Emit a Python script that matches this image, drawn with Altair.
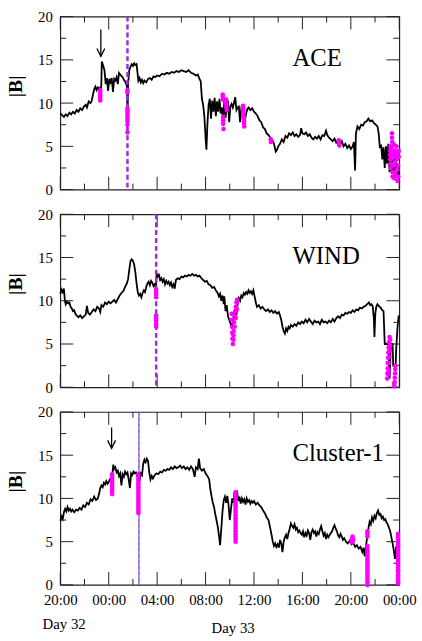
import altair as alt
import pandas as pd

# |B| in nT against hours elapsed since 20:00 UT on day 32
ACE_B = [
    (0.0, 8.8), (0.15, 8.6), (0.3, 8.4), (0.45, 8.7), (0.6, 8.5), (0.75, 8.9), (0.9, 8.7),
    (1.05, 9.0), (1.2, 8.8), (1.35, 9.2), (1.5, 9.0), (1.65, 9.4), (1.8, 9.2), (1.95, 9.6),
    (2.1, 9.8), (2.2, 9.5), (2.35, 10.2), (2.5, 10.0), (2.6, 10.3), (2.7, 11.0), (2.8, 11.6),
    (2.9, 11.9), (3.0, 11.5), (3.1, 11.8), (3.2, 11.6), (3.3, 11.8), (3.38, 11.6), (3.43, 14.8),
    (3.55, 14.3), (3.65, 13.8), (3.75, 12.2), (3.85, 12.9), (3.95, 11.4), (4.05, 12.8),
    (4.15, 12.4), (4.25, 12.9), (4.35, 11.3), (4.45, 12.8), (4.55, 12.6), (4.65, 13.0),
    (4.75, 12.2), (4.85, 13.5), (5.0, 13.2), (5.15, 13.0), (5.25, 12.7), (5.35, 12.5),
    (5.45, 12.2), (5.52, 11.8), (5.55, 6.8), (5.6, 12.2), (5.7, 13.8), (5.8, 14.2),
    (5.9, 14.5), (6.0, 14.3), (6.1, 14.6), (6.2, 14.4), (6.3, 14.5), (6.38, 13.5),
    (6.45, 12.6), (6.55, 12.9), (6.65, 12.4), (6.75, 12.7), (6.85, 12.3), (6.95, 12.6),
    (7.1, 12.4), (7.25, 12.8), (7.4, 12.9), (7.55, 12.7), (7.7, 13.1), (7.85, 13.0),
    (8.0, 13.2), (8.2, 13.1), (8.4, 13.4), (8.6, 13.3), (8.8, 13.5), (9.0, 13.4),
    (9.2, 13.6), (9.4, 13.5), (9.6, 13.7), (9.8, 13.6), (10.0, 13.8), (10.2, 13.7),
    (10.4, 13.6), (10.6, 13.8), (10.8, 13.5), (11.0, 13.4), (11.2, 13.2), (11.35, 13.3),
    (11.5, 12.8), (11.6, 12.5), (11.7, 10.5), (11.8, 9.8), (11.9, 8.5), (12.0, 6.0),
    (12.07, 4.6), (12.15, 7.5), (12.25, 9.8), (12.35, 10.5), (12.45, 8.2), (12.55, 10.3),
    (12.65, 9.0), (12.75, 10.6), (12.85, 8.5), (12.95, 10.2), (13.05, 9.0), (13.15, 10.5),
    (13.25, 8.8), (13.35, 9.5), (13.45, 8.0), (13.55, 10.2), (13.65, 8.3), (13.75, 9.8),
    (13.85, 10.3), (13.95, 7.8), (14.05, 9.6), (14.15, 9.9), (14.25, 9.5), (14.35, 10.0),
    (14.45, 10.7), (14.55, 9.2), (14.65, 9.5), (14.75, 9.6), (14.85, 7.8), (14.95, 9.3),
    (15.05, 9.0), (15.15, 8.5), (15.25, 8.0), (15.35, 8.8), (15.45, 9.3), (15.55, 9.5),
    (15.7, 9.2), (15.85, 9.4), (16.0, 9.0), (16.15, 8.8), (16.3, 8.5), (16.45, 8.0),
    (16.6, 7.8), (16.75, 7.2), (16.9, 7.0), (17.05, 6.5), (17.2, 6.3), (17.35, 6.0),
    (17.5, 5.8), (17.65, 5.3), (17.8, 4.4), (17.9, 4.6), (18.0, 5.0), (18.15, 5.3),
    (18.3, 5.8), (18.45, 5.5), (18.6, 6.2), (18.75, 6.0), (18.9, 6.5), (19.05, 6.3),
    (19.2, 6.6), (19.35, 6.2), (19.5, 6.4), (19.65, 6.1), (19.8, 6.3), (19.9, 7.1),
    (20.0, 6.5), (20.15, 6.4), (20.3, 6.6), (20.45, 6.2), (20.6, 6.4), (20.75, 6.0),
    (20.9, 5.8), (21.05, 6.1), (21.2, 5.9), (21.35, 6.2), (21.5, 5.8), (21.65, 6.3),
    (21.8, 6.2), (21.95, 6.8), (22.05, 6.3), (22.2, 6.0), (22.35, 5.8), (22.5, 5.6),
    (22.65, 5.9), (22.8, 5.4), (22.95, 5.5), (23.1, 5.2), (23.25, 5.6), (23.4, 5.0),
    (23.55, 5.3), (23.7, 4.8), (23.85, 5.1), (24.0, 4.7), (24.15, 5.0), (24.25, 5.5),
    (24.35, 2.2), (24.42, 6.5), (24.55, 7.3), (24.7, 7.0), (24.85, 7.5), (25.0, 7.4),
    (25.15, 7.8), (25.3, 7.9), (25.45, 8.2), (25.6, 7.9), (25.75, 8.0), (25.9, 7.7),
    (26.05, 7.5), (26.2, 7.3), (26.3, 6.5), (26.4, 4.8), (26.5, 5.2), (26.6, 3.5),
    (26.7, 4.9), (26.8, 2.5), (26.9, 5.0), (27.0, 3.0), (27.1, 5.3), (27.2, 2.0),
    (27.3, 4.0), (27.4, 1.8), (27.5, 3.5), (27.6, 2.2), (27.7, 4.5), (27.8, 1.5),
    (27.9, 2.5), (28.0, 0.8),
]

WIND_B = [
    (0.0, 10.8), (0.1, 11.3), (0.2, 11.0), (0.3, 11.4), (0.38, 10.0), (0.45, 9.6),
    (0.55, 9.9), (0.65, 9.7), (0.75, 9.8), (0.85, 9.3), (0.95, 9.1), (1.05, 8.8),
    (1.15, 8.9), (1.25, 8.5), (1.35, 8.3), (1.5, 8.1), (1.65, 8.3), (1.8, 8.0),
    (1.95, 8.2), (2.1, 8.4), (2.2, 9.4), (2.3, 8.6), (2.45, 8.4), (2.6, 8.7), (2.75, 9.0),
    (2.9, 8.8), (3.05, 9.3), (3.2, 9.1), (3.3, 8.7), (3.4, 9.5), (3.55, 9.3), (3.7, 9.8),
    (3.85, 9.6), (4.0, 9.9), (4.15, 9.7), (4.3, 9.9), (4.45, 10.1), (4.6, 9.8),
    (4.75, 10.2), (4.9, 10.6), (5.05, 10.9), (5.2, 11.1), (5.35, 11.6), (5.5, 12.0),
    (5.6, 12.5), (5.7, 13.6), (5.8, 14.6), (5.9, 14.8), (6.0, 14.6), (6.1, 14.2),
    (6.2, 13.3), (6.3, 12.0), (6.4, 11.0), (6.5, 10.6), (6.6, 10.8), (6.7, 10.4),
    (6.8, 10.9), (6.9, 11.2), (7.0, 11.0), (7.1, 11.6), (7.2, 12.0), (7.3, 12.2),
    (7.4, 11.8), (7.5, 12.3), (7.6, 12.1), (7.7, 11.7), (7.8, 11.9), (7.88, 11.5),
    (7.92, 12.0), (7.96, 13.2), (8.05, 12.8), (8.15, 13.0), (8.25, 12.4), (8.35, 12.6),
    (8.45, 12.2), (8.55, 12.5), (8.65, 11.9), (8.75, 12.3), (8.85, 12.0), (8.95, 12.2),
    (9.05, 11.8), (9.15, 12.1), (9.25, 11.6), (9.35, 11.9), (9.45, 11.4), (9.55, 12.4),
    (9.7, 12.6), (9.85, 12.5), (10.0, 12.8), (10.15, 12.7), (10.3, 12.9), (10.45, 12.8),
    (10.6, 13.0), (10.75, 12.9), (10.9, 13.1), (11.05, 12.9), (11.2, 13.0), (11.35, 12.8),
    (11.5, 12.9), (11.65, 12.6), (11.8, 12.4), (11.95, 12.2), (12.1, 12.3), (12.25, 11.9),
    (12.4, 11.8), (12.55, 11.5), (12.7, 11.6), (12.85, 11.2), (13.0, 10.9), (13.1, 10.5),
    (13.2, 10.8), (13.3, 10.0), (13.4, 10.6), (13.5, 9.6), (13.55, 10.5), (13.65, 8.8),
    (13.75, 9.5), (13.85, 8.2), (13.95, 7.8), (14.05, 7.4), (14.15, 7.0), (14.25, 7.5),
    (14.35, 8.5), (14.45, 9.0), (14.55, 8.3), (14.65, 9.6), (14.75, 10.3), (14.85, 10.0),
    (14.95, 10.6), (15.05, 10.4), (15.15, 10.9), (15.25, 10.7), (15.35, 11.0),
    (15.45, 10.8), (15.55, 11.2), (15.65, 10.9), (15.75, 11.1), (15.85, 10.8),
    (15.95, 11.2), (16.05, 10.5), (16.15, 9.8), (16.25, 9.3), (16.4, 9.5), (16.55, 9.1),
    (16.7, 9.3), (16.85, 9.0), (17.0, 8.8), (17.15, 9.0), (17.3, 8.7), (17.45, 8.9),
    (17.6, 8.6), (17.75, 8.8), (17.9, 8.5), (18.05, 8.7), (18.15, 8.3), (18.25, 7.8),
    (18.35, 7.0), (18.45, 6.5), (18.55, 6.2), (18.65, 6.8), (18.75, 6.5), (18.85, 7.0),
    (18.95, 6.8), (19.05, 7.2), (19.2, 7.0), (19.35, 7.3), (19.5, 7.1), (19.65, 7.5),
    (19.8, 7.3), (19.95, 7.6), (20.1, 7.4), (20.25, 7.8), (20.4, 7.5), (20.55, 7.9),
    (20.7, 7.6), (20.85, 7.3), (21.0, 7.7), (21.15, 7.5), (21.3, 7.6), (21.45, 7.3),
    (21.6, 7.8), (21.75, 7.5), (21.9, 7.6), (22.05, 7.4), (22.2, 7.7), (22.35, 7.5),
    (22.5, 7.9), (22.65, 7.6), (22.8, 8.0), (22.95, 8.2), (23.1, 8.0), (23.25, 8.4),
    (23.4, 8.3), (23.55, 8.6), (23.7, 8.5), (23.85, 8.7), (24.0, 8.6), (24.15, 8.9),
    (24.3, 8.7), (24.45, 9.0), (24.6, 8.9), (24.75, 9.2), (24.9, 9.1), (25.05, 9.3),
    (25.2, 9.4), (25.35, 9.6), (25.5, 9.8), (25.6, 9.5), (25.7, 9.6), (25.8, 9.4),
    (25.9, 8.0), (25.95, 5.8), (26.02, 8.5), (26.1, 9.3), (26.2, 9.6), (26.3, 9.4),
    (26.45, 9.2), (26.6, 8.9), (26.7, 8.8), (26.8, 5.0), (27.1, 5.0), (27.2, 1.0),
    (27.3, 5.0), (27.45, 5.0), (27.5, 2.5), (27.7, 2.5), (27.75, 4.5), (27.85, 6.8),
    (27.95, 8.3), (28.0, 8.0),
]

CLUSTER_B = [
    (0.0, 7.4), (0.1, 7.9), (0.2, 7.6), (0.3, 8.4), (0.4, 8.8), (0.5, 8.5), (0.6, 9.0),
    (0.7, 8.6), (0.8, 8.8), (0.9, 8.5), (1.0, 8.7), (1.15, 8.4), (1.3, 8.7), (1.45, 8.6),
    (1.6, 8.9), (1.75, 8.7), (1.9, 9.2), (2.05, 9.0), (2.2, 9.5), (2.35, 9.3), (2.5, 9.9),
    (2.65, 9.7), (2.8, 10.2), (2.95, 9.8), (3.1, 10.0), (3.2, 10.5), (3.3, 11.2),
    (3.4, 11.5), (3.5, 11.3), (3.6, 11.8), (3.7, 11.6), (3.8, 12.0), (3.9, 11.7),
    (4.0, 11.9), (4.1, 12.2), (4.2, 12.0), (4.3, 12.8), (4.38, 13.9), (4.45, 13.4),
    (4.55, 13.6), (4.65, 13.0), (4.75, 13.2), (4.85, 12.6), (4.95, 12.9), (5.05, 11.5),
    (5.15, 12.8), (5.25, 12.5), (5.35, 13.1), (5.45, 12.8), (5.55, 13.0), (5.65, 12.2),
    (5.75, 11.2), (5.85, 12.9), (5.95, 12.7), (6.05, 13.1), (6.15, 12.9), (6.25, 13.0),
    (6.35, 12.6), (6.45, 12.8), (6.55, 12.0), (6.65, 12.9), (6.75, 12.7), (6.85, 14.0),
    (6.95, 14.5), (7.05, 14.2), (7.15, 14.6), (7.25, 14.3), (7.35, 13.0), (7.45, 12.2),
    (7.55, 12.6), (7.65, 12.3), (7.8, 12.7), (7.95, 12.9), (8.1, 12.8), (8.25, 13.1),
    (8.4, 13.0), (8.55, 13.3), (8.7, 13.2), (8.85, 13.4), (9.0, 13.3), (9.15, 13.6),
    (9.3, 13.4), (9.45, 13.7), (9.6, 13.5), (9.75, 13.6), (9.9, 13.8), (10.05, 13.5),
    (10.2, 13.7), (10.35, 13.4), (10.5, 13.6), (10.65, 13.3), (10.8, 13.7), (10.95, 13.4),
    (11.1, 12.5), (11.2, 13.6), (11.35, 13.4), (11.45, 14.6), (11.55, 13.5), (11.7, 13.2),
    (11.85, 13.4), (12.0, 12.9), (12.15, 12.6), (12.3, 12.2), (12.4, 11.0), (12.5, 10.2),
    (12.6, 9.5), (12.7, 9.0), (12.8, 8.2), (12.9, 7.5), (13.0, 6.8), (13.1, 5.8),
    (13.2, 4.6), (13.3, 6.5), (13.4, 8.5), (13.5, 9.8), (13.6, 10.2), (13.7, 9.5),
    (13.8, 10.3), (13.9, 9.2), (14.0, 7.5), (14.1, 8.8), (14.2, 10.0), (14.3, 9.5),
    (14.4, 10.8), (14.5, 10.3), (14.6, 10.9), (14.7, 9.7), (14.8, 10.2), (14.9, 9.4),
    (15.0, 10.0), (15.1, 9.6), (15.2, 9.9), (15.3, 9.3), (15.4, 10.0), (15.5, 9.6),
    (15.6, 9.8), (15.7, 9.4), (15.8, 9.7), (15.9, 9.5), (16.0, 9.7), (16.15, 9.3),
    (16.3, 9.5), (16.45, 9.2), (16.6, 9.0), (16.75, 8.6), (16.9, 8.3), (17.05, 7.8),
    (17.2, 7.5), (17.35, 6.5), (17.45, 5.8), (17.55, 5.0), (17.65, 4.5), (17.75, 4.8),
    (17.85, 4.4), (17.95, 4.7), (18.05, 4.3), (18.15, 5.2), (18.25, 4.8), (18.35, 3.8),
    (18.45, 5.0), (18.55, 5.5), (18.65, 5.8), (18.75, 5.3), (18.85, 6.0), (18.95, 6.5),
    (19.05, 7.1), (19.15, 6.8), (19.25, 6.6), (19.35, 7.0), (19.45, 6.4), (19.55, 6.6),
    (19.65, 6.1), (19.75, 6.3), (19.85, 6.0), (19.95, 5.8), (20.05, 6.2), (20.15, 5.5),
    (20.25, 6.0), (20.35, 5.7), (20.45, 6.3), (20.55, 6.0), (20.65, 5.2), (20.75, 6.1),
    (20.85, 6.4), (20.95, 6.0), (21.05, 6.2), (21.15, 5.6), (21.25, 6.1), (21.35, 5.9),
    (21.45, 6.4), (21.55, 6.8), (21.65, 6.2), (21.75, 5.7), (21.85, 6.0), (21.95, 5.3),
    (22.05, 5.8), (22.15, 5.5), (22.3, 5.9), (22.45, 6.2), (22.55, 6.6), (22.65, 6.9),
    (22.75, 6.5), (22.85, 6.2), (22.95, 5.7), (23.05, 5.5), (23.15, 5.9), (23.25, 5.6),
    (23.35, 5.2), (23.45, 5.4), (23.6, 5.0), (23.75, 4.8), (23.9, 5.1), (24.05, 4.7),
    (24.2, 4.9), (24.35, 4.4), (24.5, 4.6), (24.65, 4.2), (24.8, 4.4), (24.95, 3.8),
    (25.05, 4.3), (25.15, 3.3), (25.25, 4.5), (25.35, 5.5), (25.45, 6.5), (25.55, 7.3),
    (25.65, 7.0), (25.75, 7.8), (25.85, 7.4), (25.95, 8.0), (26.05, 7.7), (26.15, 8.3),
    (26.25, 8.6), (26.35, 8.1), (26.45, 8.2), (26.55, 7.7), (26.65, 7.9), (26.75, 7.5),
    (26.85, 7.6), (26.95, 7.2), (27.05, 7.0), (27.15, 6.6), (27.25, 6.2), (27.35, 5.5),
    (27.45, 4.8), (27.55, 4.0), (27.65, 3.0), (27.75, 4.5), (27.85, 2.6), (27.92, 5.0),
    (28.0, 5.5),
]

# highlighted samples (magenta)
ACE_DOTS = [
    (3.3, 10.3), (3.3, 10.6), (3.3, 10.9), (3.3, 11.2), (3.3, 11.5),
    (5.55, 11.5), (5.55, 11.2), (5.55, 9.4), (5.55, 9.1), (5.55, 8.8), (5.55, 8.5),
    (5.55, 8.2), (5.55, 7.9), (5.55, 7.5), (5.55, 6.6),
    (13.42, 11.0), (13.42, 10.7), (13.45, 10.4), (13.45, 8.4), (13.45, 8.0),
    (13.45, 7.6), (13.48, 7.0),
    (13.7, 10.4), (13.7, 10.1), (13.72, 9.8), (13.72, 9.5), (13.75, 9.2),
    (15.1, 9.7), (15.1, 9.4), (15.12, 9.1), (15.12, 8.8), (15.15, 8.5), (15.15, 8.2),
    (15.18, 7.9), (15.18, 7.6), (15.2, 7.3),
    (17.38, 5.8), (17.4, 5.5),
    (23.0, 5.7), (23.02, 5.4), (23.05, 5.1),
    (27.25, 4.5), (27.25, 4.0), (27.25, 3.5), (27.28, 5.0), (27.3, 2.5), (27.3, 3.0),
    (27.32, 4.8), (27.4, 6.5), (27.4, 6.0), (27.42, 5.5), (27.45, 1.5), (27.45, 2.0),
    (27.5, 4.2), (27.5, 3.8), (27.55, 2.8), (27.55, 5.2), (27.58, 1.3), (27.6, 4.5),
    (27.65, 3.2), (27.65, 2.0), (27.7, 4.0), (27.72, 1.6), (27.75, 5.0), (27.8, 3.5),
    (27.82, 2.3), (27.85, 1.0), (27.9, 4.3), (27.9, 2.8), (27.92, 1.5), (27.95, 3.8),
    (27.95, 4.5),
]

WIND_DOTS = [
    (7.92, 11.3), (7.92, 11.0), (7.92, 10.7), (7.92, 10.4),
    (7.92, 8.3), (7.92, 8.0), (7.92, 7.7), (7.92, 7.3), (7.92, 7.0),
    (14.15, 8.5), (14.15, 7.8), (14.18, 7.0), (14.2, 6.3), (14.22, 5.6), (14.25, 5.0),
    (14.3, 5.5), (14.32, 6.5), (14.35, 7.5), (14.4, 8.3), (14.45, 8.8), (14.5, 9.3),
    (14.55, 9.8), (14.6, 10.1), (14.58, 9.0), (14.5, 8.0), (14.4, 7.0), (14.3, 6.0),
    (27.0, 1.0), (27.02, 1.6), (27.05, 2.2), (27.05, 2.8), (27.08, 3.4), (27.1, 4.0),
    (27.12, 4.6), (27.15, 5.2), (27.2, 5.8), (27.25, 5.5), (27.25, 4.8), (27.2, 4.2),
    (27.18, 3.5), (27.15, 2.8), (27.12, 2.0), (27.1, 1.5),
    (27.58, 0.4), (27.6, 0.1), (27.62, 0.6), (27.63, 1.1), (27.65, 1.6), (27.67, 2.1),
    (27.7, 2.5),
]

CLUSTER_DOTS = (
    [(4.28, v) for v in (10.5, 10.8, 11.1, 11.4, 11.7, 12.0, 12.3, 12.6, 12.8)]
    + [(6.45, v) for v in (8.3, 8.6, 8.9, 9.2, 9.5, 9.8, 10.1, 10.4, 10.7, 11.0,
                           11.3, 11.6, 11.9, 12.2, 12.5, 12.8)]
    + [(14.48, v) for v in (5.0, 5.3, 5.6, 5.9, 6.2, 6.5, 6.8, 7.1, 7.4, 7.7, 8.0,
                            8.3, 8.6, 8.9, 9.2, 9.5, 9.8, 10.1, 10.4, 10.7)]
    + [(24.05, 5.0), (24.1, 5.3), (24.15, 5.6), (24.2, 5.2), (24.1, 4.9)]
    + [(25.37, v) for v in (0.0, 0.3, 0.6, 0.9, 1.2, 1.5, 1.8, 2.1, 2.4, 2.7, 3.0,
                            3.3, 3.6, 3.9, 4.2, 4.5, 5.6, 5.9, 6.2)]
    + [(27.9, v) for v in (0.2, 0.5, 0.8, 1.1, 1.4, 1.7, 2.0, 2.3, 2.6, 2.9, 3.2,
                           3.5, 3.8, 4.1, 4.4, 4.7, 5.0, 5.3, 5.6, 5.9)]
)

# vertical marker times (hours after 20:00)
ACE_MARK = 5.55
WIND_MARK = 7.92
CLUSTER_MARK = 6.5

# arrows: (hour, top, tip)
ACE_ARROW = (3.35, 18.5, 15.4)
CLUSTER_ARROW = (4.24, 18.2, 15.8)

X_MAJOR = [0, 4, 8, 12, 16, 20, 24, 28]
X_MINOR = [2, 6, 10, 14, 18, 22, 26]
Y_MAJOR = [0, 5, 10, 15, 20]
Y_MINOR = [2.5, 7.5, 12.5, 17.5]

FONT = "Liberation Serif"
W, H = 343, 175
MAJOR, MINOR = 13, 6
XS = alt.Scale(domain=[0, 28], nice=False, zero=False)
YS = alt.Scale(domain=[0, 20], nice=False)
HOUR_LABEL = "format((datum.value + 20) % 24, '02d') + ':00'"
VIOLET = "#9a2ee6"
MAGENTA = "#ff00ff"
FRAME = "#222222"


def label_axis(orient, values, labels, **extra):
    return alt.Axis(
        orient=orient, values=values, ticks=False, domain=False, grid=False,
        labels=labels, labelFont=FONT, labelFontSize=15, labelColor="black",
        labelPadding=8, labelOverlap=False, labelFlush=False, **extra,
    )


def inner_ticks(values, channel, size):
    """Short rules along all four edges, pointing into the plot."""
    df = pd.DataFrame({"v": values})
    base = alt.Chart(df).mark_rule(color=FRAME, strokeWidth=1)
    if channel == "x":
        enc = alt.X("v:Q", scale=XS, axis=None)
        return [
            base.encode(x=enc, y=alt.value(H - size), y2=alt.value(H)),
            base.encode(x=enc, y=alt.value(0), y2=alt.value(size)),
        ]
    enc = alt.Y("v:Q", scale=YS, axis=None)
    return [
        base.encode(y=enc, x=alt.value(0), x2=alt.value(size)),
        base.encode(y=enc, x=alt.value(W - size), x2=alt.value(W)),
    ]


def panel(series, dots, mark_h, name, arrow=None, bottom=False, thin_mark=False):
    line_df = pd.DataFrame(series, columns=["h", "b"])
    dot_df = pd.DataFrame(dots, columns=["h", "b"])

    line = alt.Chart(line_df).mark_line(color="black", strokeWidth=1.8).encode(
        x=alt.X("h:Q", scale=XS, title=None,
                axis=label_axis("bottom", X_MAJOR, bottom, labelExpr=HOUR_LABEL)),
        y=alt.Y("b:Q", scale=YS, title="|B|",
                axis=label_axis("left", Y_MAJOR, True,
                                titleFont=FONT, titleFontSize=20,
                                titleFontWeight="bold", titleColor="black",
                                titlePadding=12, titleY=70)),
    )

    layers = [line] + (
        inner_ticks(X_MAJOR, "x", MAJOR) + inner_ticks(X_MINOR, "x", MINOR)
        + inner_ticks(Y_MAJOR, "y", MAJOR) + inner_ticks(Y_MINOR, "y", MINOR)
    )

    mark_df = pd.DataFrame({"h": [mark_h]})
    if thin_mark:
        layers.append(alt.Chart(mark_df).mark_rule(color="#3a3ad8", strokeWidth=1).encode(
            x=alt.X("h:Q", scale=XS, axis=None)))
        layers.append(alt.Chart(mark_df).mark_rule(
            color="#d03ce8", strokeWidth=1, strokeDash=[3, 3]).encode(
            x=alt.X("h:Q", scale=XS, axis=None)))
    else:
        layers.append(alt.Chart(mark_df).mark_rule(
            color=VIOLET, strokeWidth=2.5, strokeDash=[5, 3]).encode(
            x=alt.X("h:Q", scale=XS, axis=None)))

    layers.append(alt.Chart(dot_df).mark_circle(color=MAGENTA, size=22, opacity=1).encode(
        x=alt.X("h:Q", scale=XS, axis=None),
        y=alt.Y("b:Q", scale=YS, axis=None),
    ))

    if arrow is not None:
        arrow_df = pd.DataFrame([arrow], columns=["h", "top", "tip"])
        layers.append(alt.Chart(arrow_df).mark_rule(color="black", strokeWidth=1.3).encode(
            x=alt.X("h:Q", scale=XS, axis=None),
            y=alt.Y("top:Q", scale=YS, axis=None),
            y2="tip:Q",
        ))
        layers.append(alt.Chart(arrow_df).mark_point(
            shape="M -1 -1 L 0 1 L 1 -1", filled=False, color="black",
            strokeWidth=1.3, size=64, opacity=1, yOffset=-4).encode(
            x=alt.X("h:Q", scale=XS, axis=None),
            y=alt.Y("tip:Q", scale=YS, axis=None),
        ))

    layers.append(alt.Chart(pd.DataFrame({"t": [name]})).mark_text(
        align="left", baseline="alphabetic", font=FONT, fontSize=25, color="black").encode(
        text="t:N", x=alt.value(235), y=alt.value(50)))

    if bottom:
        for label, px, py in (("Day 32", -18, 220), ("Day 33", 153, 224)):
            layers.append(alt.Chart(pd.DataFrame({"t": [label]})).mark_text(
                align="left", baseline="alphabetic", font=FONT, fontSize=15,
                color="black").encode(text="t:N", x=alt.value(px), y=alt.value(py)))

    # each layer keeps its own axis; only the data line carries labelled ones
    return alt.layer(*layers).properties(width=W, height=H).resolve_axis(
        x="independent", y="independent")


chart = alt.vconcat(
    panel(ACE_B, ACE_DOTS, ACE_MARK, "ACE", arrow=ACE_ARROW),
    panel(WIND_B, WIND_DOTS, WIND_MARK, "WIND"),
    panel(CLUSTER_B, CLUSTER_DOTS, CLUSTER_MARK, "Cluster-1", arrow=CLUSTER_ARROW,
          bottom=True, thin_mark=True),
    spacing=25, bounds="flush",
).configure_view(stroke=FRAME, strokeWidth=1.2).properties(
    padding={"left": 5, "top": 5, "right": 5, "bottom": 5},
    background="white",
)

chart.save("out.html", embed_options={"renderer": "svg", "actions": False})
